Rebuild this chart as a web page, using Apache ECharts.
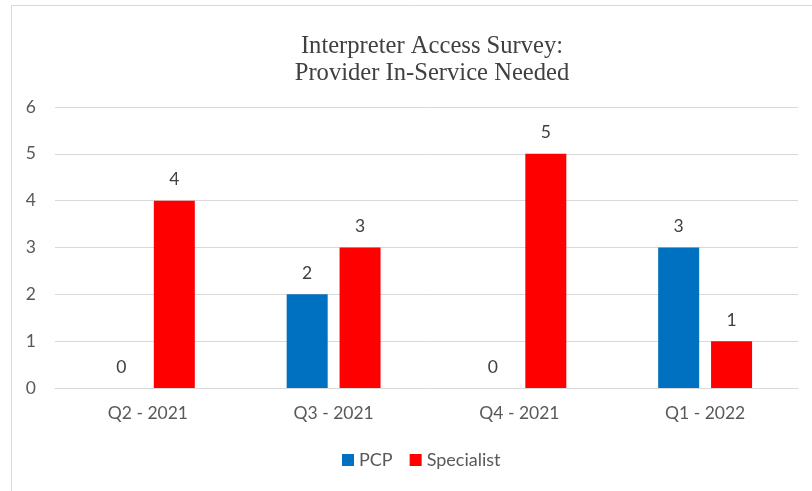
<!DOCTYPE html>
<html>
<head>
<meta charset="utf-8">
<script src="https://cdn.jsdelivr.net/npm/echarts@6/dist/echarts.min.js"></script>
<style>
  html, body { margin: 0; padding: 0; background: #fff; }
  #chart { width: 812px; height: 491px; }
</style>
</head>
<body>
<div id="chart"></div>
<script>
// Quarterly survey results
const quarters = ['Q2 - 2021', 'Q3 - 2021', 'Q4 - 2021', 'Q1 - 2022'];
const pcp = [0, 2, 0, 3];
const specialist = [4, 3, 5, 1];
const yTicks = [0, 1, 2, 3, 4, 5, 6];

const chart = echarts.init(document.getElementById('chart'));
const labelFont = 'Lato, "Open Sans", "Liberation Sans", sans-serif';

const barLabel = {
  show: true,
  position: 'top',
  distance: 12,
  color: '#404040',
  fontSize: 17.5,
  fontFamily: labelFont
};

chart.setOption({
  animation: false,
  graphic: [{
    type: 'rect',
    shape: { x: 11.5, y: 5.5, width: 900, height: 600 },
    style: { fill: 'none', stroke: '#d9d9d9', lineWidth: 1 },
    silent: true
  }],
  title: {
    text: 'Interpreter Access Survey:\nProvider In-Service Needed',
    left: 427,
    top: 28,
    textAlign: 'center',
    textStyle: {
      fontFamily: '"Liberation Serif", "DejaVu Serif", serif',
      fontWeight: 'normal',
      fontSize: 24.6,
      lineHeight: 27,
      color: '#404040'
    }
  },
  legend: {
    bottom: 17,
    left: 337,
    itemWidth: 12,
    itemHeight: 12,
    itemGap: 17,
    icon: 'rect',
    textStyle: { fontSize: 18, color: '#595959', fontFamily: labelFont },
    data: ['PCP', 'Specialist']
  },
  grid: { left: 55, right: 14, top: 107, bottom: 103 },
  xAxis: {
    type: 'category',
    data: quarters,
    axisTick: { show: false },
    axisLine: { lineStyle: { color: '#d9d9d9', width: 1 } },
    axisLabel: { color: '#595959', fontSize: 17.5, margin: 16, fontFamily: labelFont }
  },
  yAxis: {
    type: 'value',
    min: yTicks[0],
    max: yTicks[yTicks.length - 1],
    interval: 1,
    axisLine: { show: false },
    axisTick: { show: false },
    splitLine: { lineStyle: { color: '#d9d9d9', width: 1 } },
    axisLabel: { color: '#595959', fontSize: 17.5, margin: 19, fontFamily: labelFont }
  },
  series: [
    {
      name: 'PCP',
      type: 'bar',
      data: pcp,
      barWidth: 41,
      barGap: '29%',
      itemStyle: { color: '#0070C0' },
      label: barLabel
    },
    {
      name: 'Specialist',
      type: 'bar',
      data: specialist,
      barWidth: 41,
      barGap: '29%',
      itemStyle: { color: '#FF0000' },
      label: barLabel
    }
  ]
});
</script>
</body>
</html>
